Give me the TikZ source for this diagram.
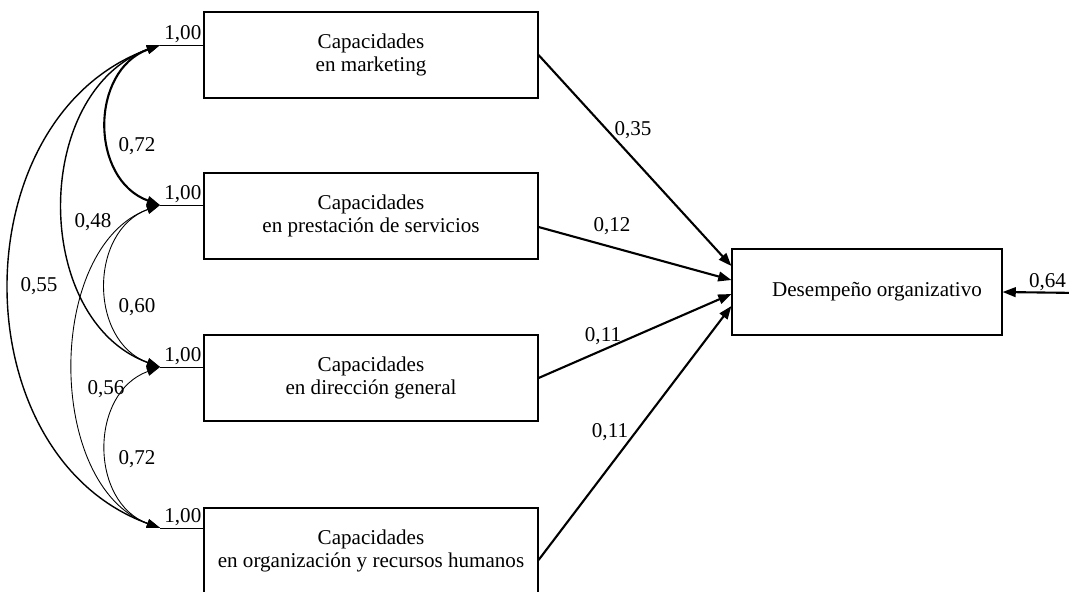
\documentclass[tikz,border=0pt]{standalone}
\usepackage{fontspec}
\setmainfont{Liberation Serif}
\usetikzlibrary{positioning,calc,arrows.meta}

\begin{document}
\begin{tikzpicture}[x=0.02cm, y=-0.02cm]
	\useasboundingbox (0,0) rectangle (1069,592);
	\begin{scope}
		\tikzstyle{every node}=[align=center, inner sep=1pt, font=\fontsize{12}{13.5}\selectfont]
		\tikzstyle{box}=[draw, line width=0.7pt, minimum width=6.68cm, minimum height=1.72cm]
		\tikzstyle{cov}=[{Triangle[length=7.5pt,width=5pt]}-{Triangle[length=7.5pt,width=5pt]}, line width=0.5pt, bend right=70]
		\tikzstyle{reg}=[-{Triangle[length=7.5pt,width=5.5pt]}, line width=1.2pt]

		\node[box] (mkt) at (371, 55) {Capacidades\\en marketing};
		\node[box] (prs) at (371, 216) {Capacidades\\en prestación de servicios};
		\node[box] (dir) at (371, 378) {Capacidades\\en dirección general};
		\node[box] (org) at (371, 551) {Capacidades\\en organización y recursos humanos};
		\node[box, minimum width=5.4cm] (des) at (867, 292) {\hspace{0.4cm}Desempeño organizativo};

		\coordinate (pmkt) at (160, 45);
		\coordinate (pprs) at (160, 205);
		\coordinate (pdir) at (160, 367);
		\coordinate (porg) at (160, 528);
		\coordinate (err) at (1080, 293);

		% variances
		\draw (mkt.west |- pmkt) -- (pmkt);
		\draw (prs.west |- pprs) -- (pprs);
		\draw (dir.west |- pdir) -- (pdir);
		\draw (org.west |- porg) -- (porg);
		\node[anchor=south east] (vmkt) at (mkt.west |- pmkt) {1,00};
		\node[anchor=south east] (vprs) at (prs.west |- pprs) {1,00};
		\node[anchor=south east] (vdir) at (dir.west |- pdir) {1,00};
		\node[anchor=south east] (vorg) at (org.west |- porg) {1,00};

		% covariances
		\draw [cov, line width=1.2pt, looseness=1.2] (pmkt) to (pprs);
		\draw [cov, line width=0.8pt, looseness=1.09] (pmkt) to (pdir);
		\draw [cov, line width=0.8pt, looseness=1.13] (pmkt) to (porg);
		\draw [cov, looseness=1.2] (pprs) to (pdir);
		\draw [cov, looseness=0.97] (pprs) to (porg);
		\draw [cov, looseness=1.2] (pdir) to (porg);
		\node (c12) at (137, 146) {0,72};
		\node (c13) at (93, 222) {0,48};
		\node (c14) at (39, 286) {0,55};
		\node (c23) at (137, 307) {0,60};
		\node (c24) at (106, 389) {0,56};
		\node (c34) at (137, 459) {0,72};

		% paths
		\draw [reg] (mkt.east) to ([yshift=0.52cm]des.west);
		\draw [reg] ([yshift=-0.22cm]prs.east) to ([yshift=0.24cm]des.west);
		\draw [reg] (dir.east) to ([yshift=-0.04cm]des.west);
		\draw [reg] ([yshift=-0.18cm]org.east) to ([yshift=-0.28cm]des.west);
		\node (b1) at (633, 130) {0,35};
		\node (b2) at (612, 226) {0,12};
		\node (b3) at (603, 336) {0,11};
		\node (b4) at (610, 432) {0,11};

		\draw [reg] (err) to (des.east);
		\node[anchor=south east] (e) at (1068, 293) {0,64};
	\end{scope}
\end{tikzpicture}
\end{document}
